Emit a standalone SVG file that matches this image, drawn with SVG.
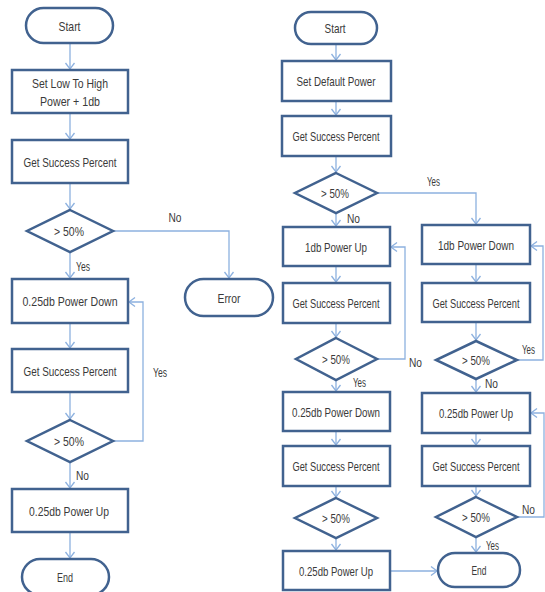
<svg xmlns="http://www.w3.org/2000/svg" width="545" height="592" viewBox="0 0 545 592">
<style>
.n{fill:#fff;stroke:#41628F;stroke-width:2.5}
.c path{fill:none;stroke:#8DB1DF;stroke-width:1.3}
text{font-family:"Liberation Sans",Arial,sans-serif;fill:#3a3a3a;text-anchor:middle}
.l{font-size:13.5px}
.r{font-size:13px}
.lab{text-anchor:start}
</style>
<defs>
<marker id="a" markerUnits="userSpaceOnUse" markerWidth="10" markerHeight="12" refX="8" refY="6" orient="auto">
<path d="M2,1.5 L8,6 L2,10.5" fill="none" stroke="#8DB1DF" stroke-width="1.3"/>
</marker>
</defs>
<g class="c" id="connectors">
<path d="M70,43V69" marker-end="url(#a)"/>
<path d="M70,113V139" marker-end="url(#a)"/>
<path d="M70,183V209" marker-end="url(#a)"/>
<path d="M70,252V278" marker-end="url(#a)"/>
<path d="M113,231H229V278" marker-end="url(#a)"/>
<path d="M70,323V348" marker-end="url(#a)"/>
<path d="M70,392V419" marker-end="url(#a)"/>
<path d="M113,441H143V302H129" marker-end="url(#a)"/>
<path d="M70,462V488" marker-end="url(#a)"/>
<path d="M70,532V558" marker-end="url(#a)"/>
<path d="M336,44V60" marker-end="url(#a)"/>
<path d="M336,101V115" marker-end="url(#a)"/>
<path d="M336,156V172" marker-end="url(#a)"/>
<path d="M336,213V226" marker-end="url(#a)"/>
<path d="M377,193H476V224" marker-end="url(#a)"/>
<path d="M336,266V282" marker-end="url(#a)"/>
<path d="M476,264V282" marker-end="url(#a)"/>
<path d="M336,323V337" marker-end="url(#a)"/>
<path d="M476,322V340" marker-end="url(#a)"/>
<path d="M377,359H405V247H391" marker-end="url(#a)"/>
<path d="M336,380V391" marker-end="url(#a)"/>
<path d="M517,360H543V246H531" marker-end="url(#a)"/>
<path d="M476,379V392" marker-end="url(#a)"/>
<path d="M336,431V445" marker-end="url(#a)"/>
<path d="M336,486V497" marker-end="url(#a)"/>
<path d="M336,538V550" marker-end="url(#a)"/>
<path d="M390,571H437" marker-end="url(#a)"/>
<path d="M476,433V445" marker-end="url(#a)"/>
<path d="M476,486V496" marker-end="url(#a)"/>
<path d="M517,517H544V413H531" marker-end="url(#a)"/>
<path d="M476,537V552" marker-end="url(#a)"/>
</g>
<g id="labels">
<text class="l" x="175" y="222" textLength="13" lengthAdjust="spacingAndGlyphs">No</text>
<text class="l lab" x="76" y="271" textLength="14" lengthAdjust="spacingAndGlyphs">Yes</text>
<text class="l lab" x="153" y="377" textLength="14" lengthAdjust="spacingAndGlyphs">Yes</text>
<text class="l lab" x="76" y="480" textLength="13" lengthAdjust="spacingAndGlyphs">No</text>
<text class="r lab" x="347" y="223" textLength="13" lengthAdjust="spacingAndGlyphs">No</text>
<text class="r lab" x="427" y="186" textLength="13" lengthAdjust="spacingAndGlyphs">Yes</text>
<text class="r lab" x="409" y="367" textLength="13" lengthAdjust="spacingAndGlyphs">No</text>
<text class="r lab" x="353" y="387" textLength="13" lengthAdjust="spacingAndGlyphs">Yes</text>
<text class="r lab" x="522" y="354" textLength="13" lengthAdjust="spacingAndGlyphs">Yes</text>
<text class="r lab" x="485" y="388" textLength="13" lengthAdjust="spacingAndGlyphs">No</text>
<text class="r lab" x="522" y="514" textLength="13" lengthAdjust="spacingAndGlyphs">No</text>
<text class="r lab" x="486" y="550" textLength="13" lengthAdjust="spacingAndGlyphs">Yes</text>
</g>
<g id="L_start"><rect class="n" x="26" y="8" width="87" height="35" rx="17.5"/><text class="l" x="69.5" y="31" textLength="22" lengthAdjust="spacingAndGlyphs">Start</text></g>
<g id="L_set"><rect class="n" x="12" y="70" width="116" height="43"/><text class="l" x="70" y="88" textLength="76" lengthAdjust="spacingAndGlyphs">Set Low To High</text><text class="l" x="70" y="106" textLength="60" lengthAdjust="spacingAndGlyphs">Power + 1db</text></g>
<g id="L_get1"><rect class="n" x="12" y="140" width="116" height="43"/><text class="l" x="70" y="167" textLength="93" lengthAdjust="spacingAndGlyphs">Get Success Percent</text></g>
<g id="L_dec1"><polygon class="n" points="70,210 113,231 70,252 27,231"/><text class="l" x="69" y="236" textLength="30" lengthAdjust="spacingAndGlyphs">&gt; 50%</text></g>
<g id="L_error"><rect class="n" x="185" y="279" width="88" height="37" rx="18.5"/><text class="l" x="229" y="303" textLength="23" lengthAdjust="spacingAndGlyphs">Error</text></g>
<g id="L_down"><rect class="n" x="12" y="279" width="116" height="44"/><text class="l" x="70" y="306" textLength="95" lengthAdjust="spacingAndGlyphs">0.25db Power Down</text></g>
<g id="L_get2"><rect class="n" x="12" y="349" width="116" height="43"/><text class="l" x="70" y="376" textLength="93" lengthAdjust="spacingAndGlyphs">Get Success Percent</text></g>
<g id="L_dec2"><polygon class="n" points="70,420 113,441 70,462 27,441"/><text class="l" x="69" y="446" textLength="30" lengthAdjust="spacingAndGlyphs">&gt; 50%</text></g>
<g id="L_up"><rect class="n" x="12" y="489" width="116" height="43"/><text class="l" x="69" y="516" textLength="80" lengthAdjust="spacingAndGlyphs">0.25db Power Up</text></g>
<g id="L_end"><rect class="n" x="22" y="559" width="87" height="36" rx="18"/><text class="l" x="65" y="582" textLength="16" lengthAdjust="spacingAndGlyphs">End</text></g>
<g id="R_start"><rect class="n" x="295" y="12" width="82" height="32" rx="16"/><text class="r" x="335" y="33" textLength="21" lengthAdjust="spacingAndGlyphs">Start</text></g>
<g id="R_set"><rect class="n" x="282" y="61" width="109" height="40"/><text class="r" x="336" y="86" textLength="79" lengthAdjust="spacingAndGlyphs">Set Default Power</text></g>
<g id="R_get1"><rect class="n" x="282" y="116" width="109" height="40"/><text class="r" x="336" y="141" textLength="87" lengthAdjust="spacingAndGlyphs">Get Success Percent</text></g>
<g id="R_dec1"><polygon class="n" points="336,173 377,193 336,213 295,193"/><text class="r" x="335" y="198" textLength="28" lengthAdjust="spacingAndGlyphs">&gt; 50%</text></g>
<g id="R_up1"><rect class="n" x="283" y="227" width="107" height="39"/><text class="r" x="336" y="252" textLength="62" lengthAdjust="spacingAndGlyphs">1db Power Up</text></g>
<g id="R_down1"><rect class="n" x="422" y="225" width="108" height="39"/><text class="r" x="476" y="250" textLength="76" lengthAdjust="spacingAndGlyphs">1db Power Down</text></g>
<g id="R_getA"><rect class="n" x="283" y="283" width="107" height="40"/><text class="r" x="336" y="308" textLength="87" lengthAdjust="spacingAndGlyphs">Get Success Percent</text></g>
<g id="R_getB"><rect class="n" x="422" y="283" width="108" height="39"/><text class="r" x="476" y="308" textLength="87" lengthAdjust="spacingAndGlyphs">Get Success Percent</text></g>
<g id="R_decA"><polygon class="n" points="336,338 377,359 336,380 296,359"/><text class="r" x="336" y="364" textLength="28" lengthAdjust="spacingAndGlyphs">&gt; 50%</text></g>
<g id="R_decB"><polygon class="n" points="476,341 517,360 476,379 436,360"/><text class="r" x="476" y="365" textLength="28" lengthAdjust="spacingAndGlyphs">&gt; 50%</text></g>
<g id="R_downA"><rect class="n" x="283" y="392" width="107" height="39"/><text class="r" x="336" y="417" textLength="88" lengthAdjust="spacingAndGlyphs">0.25db Power Down</text></g>
<g id="R_upB"><rect class="n" x="422" y="393" width="108" height="40"/><text class="r" x="476" y="418" textLength="74" lengthAdjust="spacingAndGlyphs">0.25db Power Up</text></g>
<g id="R_getA2"><rect class="n" x="283" y="446" width="107" height="40"/><text class="r" x="336" y="471" textLength="87" lengthAdjust="spacingAndGlyphs">Get Success Percent</text></g>
<g id="R_getB2"><rect class="n" x="422" y="446" width="108" height="40"/><text class="r" x="476" y="471" textLength="87" lengthAdjust="spacingAndGlyphs">Get Success Percent</text></g>
<g id="R_decA2"><polygon class="n" points="336,498 377,518 336,538 295,518"/><text class="r" x="336" y="523" textLength="28" lengthAdjust="spacingAndGlyphs">&gt; 50%</text></g>
<g id="R_decB2"><polygon class="n" points="476,497 517,517 476,537 436,517"/><text class="r" x="476" y="522" textLength="28" lengthAdjust="spacingAndGlyphs">&gt; 50%</text></g>
<g id="R_upA"><rect class="n" x="283" y="551" width="107" height="39"/><text class="r" x="336" y="576" textLength="74" lengthAdjust="spacingAndGlyphs">0.25db Power Up</text></g>
<g id="R_end"><rect class="n" x="438" y="553" width="82" height="34" rx="17"/><text class="r" x="479" y="575" textLength="15" lengthAdjust="spacingAndGlyphs">End</text></g>
</svg>
